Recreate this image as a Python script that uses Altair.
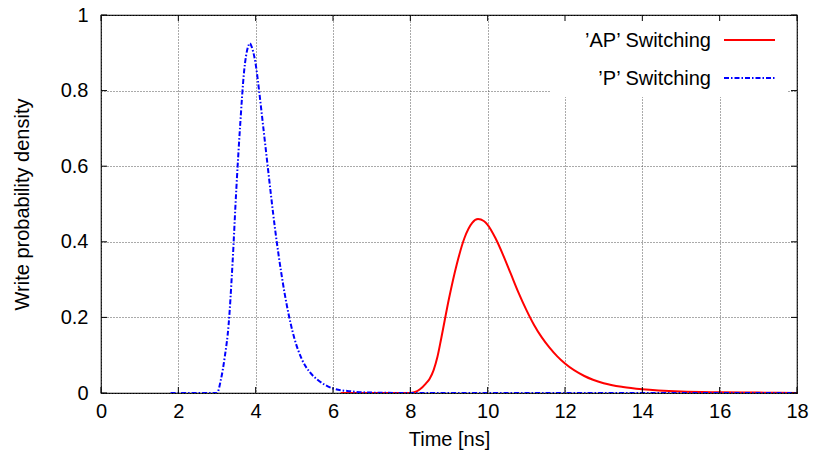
import altair as alt
import pandas as pd

x_ticks = [0, 2, 4, 6, 8, 10, 12, 14, 16, 18]
y_ticks = [0, 0.2, 0.4, 0.6, 0.8, 1]

# 'P' switching (blue, dash-dot)
p_time = [1.8, 3.0, 3.1, 3.2, 3.3, 3.4, 3.5, 3.6, 3.7, 3.8, 3.85, 3.9, 4.0, 4.1, 4.2,
          4.3, 4.4, 4.5, 4.6, 4.8, 5.0, 5.2, 5.4, 5.6, 5.8, 6.0, 6.5, 7.0, 8.0, 10, 12, 14, 16, 18]
p_density = [0, 0, 0.035, 0.095, 0.18, 0.34, 0.54, 0.71, 0.85, 0.915, 0.925, 0.915, 0.87, 0.79, 0.70,
             0.61, 0.52, 0.435, 0.36, 0.235, 0.145, 0.088, 0.055, 0.035, 0.021, 0.012, 0.004, 0.001, 0, 0, 0, 0, 0, 0]

# 'AP' switching (red, solid)
ap_time = [6.2, 8.0, 8.1, 8.25, 8.4, 8.5, 8.6, 8.7, 8.8, 9.0, 9.2, 9.4, 9.6, 9.75, 9.9, 10.0,
           10.2, 10.4, 10.6, 10.8, 11.0, 11.2, 11.4, 11.6, 11.8, 12.0, 12.5, 13.0, 13.5, 14.0,
           15.0, 16.0, 17.0, 18.0]
ap_density = [0, 0, 0.002, 0.01, 0.025, 0.038, 0.06, 0.095, 0.145, 0.25, 0.34, 0.41, 0.45, 0.46, 0.455,
              0.445, 0.41, 0.365, 0.315, 0.265, 0.22, 0.18, 0.147, 0.12, 0.097, 0.078, 0.045, 0.026,
              0.016, 0.01, 0.004, 0.002, 0.001, 0]

legend_labels = ["\u2019AP\u2019 Switching", "\u2019P\u2019 Switching"]

W, H = 696, 378
FONT = "Liberation Sans"
FS = 20

p_df = pd.DataFrame({"t": p_time, "d": p_density})
ap_df = pd.DataFrame({"t": ap_time, "d": ap_density})
xt_df = pd.DataFrame({"t": x_ticks})
yt_df = pd.DataFrame({"d": y_ticks})

xscale = alt.Scale(domain=[0, 18], nice=False)
yscale = alt.Scale(domain=[0, 1], nice=False)

xaxis = alt.Axis(values=x_ticks, format="d", title="Time [ns]",
                 titleX=W / 2, titleY=46, titleBaseline="middle", labelPadding=8)
yaxis = alt.Axis(values=y_ticks, format="~g", title="Write probability density",
                 titleX=-79, titleY=H / 2, titleAngle=-90, titleBaseline="middle",
                 titleAlign="center", labelPadding=13)

base_grid = alt.Chart(p_df).mark_line(opacity=0).encode(
    x=alt.X("t:Q", scale=xscale, axis=xaxis),
    y=alt.Y("d:Q", scale=yscale, axis=yaxis),
)

legend_box = alt.Chart(pd.DataFrame({"k": [0]})).mark_rect(color="white").encode(
    x=alt.value(449), x2=alt.value(686), y=alt.value(1), y2=alt.value(82)
)

ap_line = alt.Chart(ap_df).mark_line(color="#ff0000", strokeWidth=2, interpolate="monotone", clip=True).encode(
    x=alt.X("t:Q", scale=xscale, axis=xaxis), y=alt.Y("d:Q", scale=yscale, axis=yaxis)
)
p_line = alt.Chart(p_df).mark_line(color="#0000ff", strokeWidth=2, strokeDash=[5, 2, 1.5, 2],
                                   interpolate="monotone", clip=True).encode(
    x=alt.X("t:Q", scale=xscale, axis=xaxis), y=alt.Y("d:Q", scale=yscale, axis=yaxis)
)

# inward ticks on all four sides
tick_b = alt.Chart(xt_df).mark_rule(color="black").encode(
    x=alt.X("t:Q", scale=xscale, axis=xaxis), y=alt.value(H), y2=alt.value(H - 6))
tick_t = alt.Chart(xt_df).mark_rule(color="black").encode(
    x=alt.X("t:Q", scale=xscale, axis=xaxis), y=alt.value(0), y2=alt.value(6))
tick_l = alt.Chart(yt_df).mark_rule(color="black").encode(
    y=alt.Y("d:Q", scale=yscale, axis=yaxis), x=alt.value(0), x2=alt.value(6))
tick_r = alt.Chart(yt_df).mark_rule(color="black").encode(
    y=alt.Y("d:Q", scale=yscale, axis=yaxis), x=alt.value(W), x2=alt.value(W - 6))

leg1_text = alt.Chart(pd.DataFrame({"label": [legend_labels[0]]})).mark_text(
    align="right", baseline="middle", font=FONT, fontSize=FS, color="black").encode(
    text="label:N", x=alt.value(610), y=alt.value(26))
leg2_text = alt.Chart(pd.DataFrame({"label": [legend_labels[1]]})).mark_text(
    align="right", baseline="middle", font=FONT, fontSize=FS, color="black").encode(
    text="label:N", x=alt.value(610), y=alt.value(64))
leg1_line = alt.Chart(pd.DataFrame({"k": [0]})).mark_rule(color="#ff0000", strokeWidth=2).encode(
    x=alt.value(623), x2=alt.value(674), y=alt.value(25))
leg2_line = alt.Chart(pd.DataFrame({"k": [0]})).mark_rule(color="#0000ff", strokeWidth=2,
                                                          strokeDash=[5, 2, 1.5, 2]).encode(
    x=alt.value(623), x2=alt.value(674), y=alt.value(63))

chart = alt.layer(
    base_grid, legend_box, ap_line, p_line, tick_b, tick_t, tick_l, tick_r,
    leg1_text, leg2_text, leg1_line, leg2_line
).properties(
    width=W, height=H,
    background="white",
    padding={"left": 101, "top": 15, "right": 17, "bottom": 60},
    autosize=alt.AutoSizeParams(type="none"),
).configure_axis(
    grid=True, gridDash=[1, 2], gridColor="#555", ticks=False, tickSize=0, domain=False,
    labelFontSize=FS, labelFont=FONT, labelColor="black", labelFlush=False,
    titleFont=FONT, titleFontSize=FS, titleFontWeight="normal", titleColor="black",
).configure_view(stroke="black", strokeWidth=1.2)

chart.save("out.html", embed_options={"renderer": "svg", "actions": False})
